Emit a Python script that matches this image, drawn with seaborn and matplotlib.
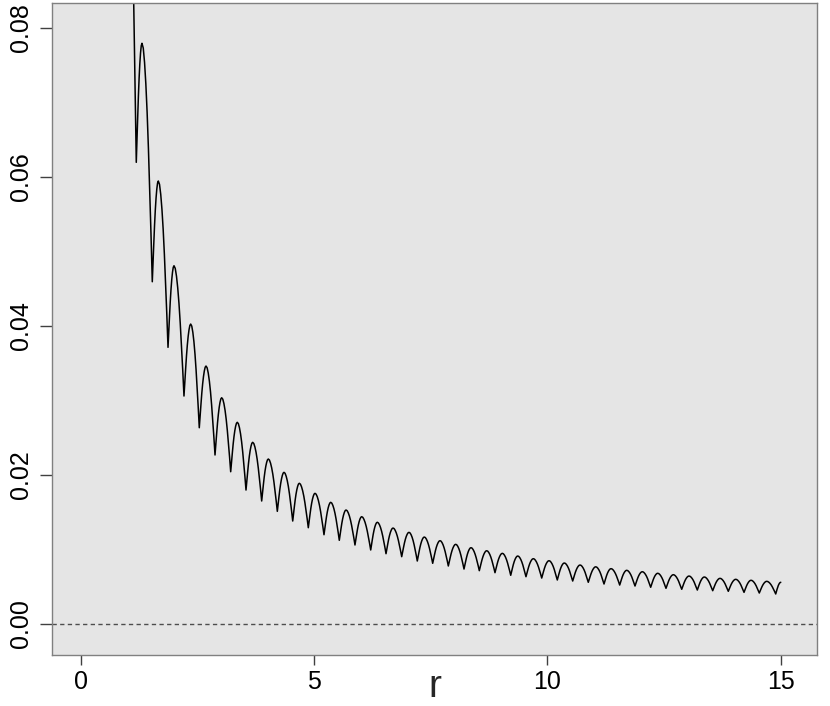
#importa os pacotes necessários
import pandas as pd
import matplotlib
matplotlib.use('Agg')
import matplotlib.pyplot as plt
import seaborn as sns

# Valores: vales (cúspides) e picos de cada arco
r_vale = [1.191, 1.534, 1.871, 2.213, 2.541, 2.878, 3.214, 3.542, 3.878, 4.213,
          4.543, 4.877, 5.213, 5.541, 5.877, 6.214, 6.542, 6.878, 7.212, 7.542,
          7.877, 8.213, 8.541, 8.877, 9.214, 9.541, 9.878, 10.212, 10.542, 10.876,
          11.213, 11.549, 11.877, 12.213, 12.541, 12.878, 13.212, 13.542, 13.876, 14.213,
          14.540, 14.892]
v_vale = [0.06196, 0.04592, 0.03711, 0.03057, 0.02631, 0.02265, 0.02040, 0.01794, 0.01647, 0.01508,
          0.01378, 0.01288, 0.01194, 0.01119, 0.01056, 0.00989, 0.00939, 0.00899, 0.00841, 0.00810,
          0.00774, 0.00733, 0.00711, 0.00684, 0.00649, 0.00630, 0.00612, 0.00586, 0.00572, 0.00555,
          0.00532, 0.00518, 0.00505, 0.00488, 0.00474, 0.00461, 0.00451, 0.00442, 0.00434, 0.00420,
          0.00411, 0.00398]
r_pico = [1.313, 1.663, 1.999, 2.357, 2.685, 3.021, 3.355, 3.685, 4.020, 4.356,
          4.684, 5.020, 5.357, 5.685, 6.021, 6.355, 6.692, 7.034, 7.362, 7.699,
          8.035, 8.363, 8.699, 9.034, 9.364, 9.698, 10.034, 10.362, 10.699, 11.035,
          11.363, 11.699, 12.033, 12.363, 12.698, 13.034, 13.362, 13.698, 14.035, 14.363,
          14.699]
v_pico = [0.07795, 0.05945, 0.04807, 0.04024, 0.03460, 0.03034, 0.02704, 0.02435, 0.02211, 0.02032,
          0.01885, 0.01750, 0.01629, 0.01526, 0.01436, 0.01361, 0.01284, 0.01226, 0.01163, 0.01114,
          0.01065, 0.01020, 0.00979, 0.00944, 0.00908, 0.00872, 0.00845, 0.00814, 0.00787, 0.00763,
          0.00738, 0.00716, 0.00697, 0.00676, 0.00657, 0.00639, 0.00626, 0.00608, 0.00595, 0.00582,
          0.00568]

# Trecho de entrada (vem de cima do gráfico) e ponto final em r = 15
r_entrada = [1.05, 1.136]
v_entrada = [0.117, 0.0834]
r_fim = 15.0
v_fim = 0.00555

# Formato de meio arco (fração da largura e da altura)
passo = [0.0, 0.125, 0.25, 0.375, 0.5, 0.625, 0.75, 0.875, 1.0]
perfil = [0.0, 0.20, 0.38, 0.56, 0.71, 0.83, 0.92, 0.98, 1.0]

# Monta a curva arco a arco
r_pts = r_entrada + [r_vale[0]]
v_pts = v_entrada + [v_vale[0]]
for k in range(len(r_pico)):
    for t, s in zip(passo[1:], perfil[1:]):                      # subida do vale até o pico
        r_pts.append(r_vale[k] + t*(r_pico[k]-r_vale[k]))
        v_pts.append(v_vale[k] + s*(v_pico[k]-v_vale[k]))
    for t, s in zip(passo[-2::-1], perfil[-2::-1]):              # descida do pico até o próximo vale
        r_pts.append(r_vale[k+1] + t*(r_pico[k]-r_vale[k+1]))
        v_pts.append(v_vale[k+1] + s*(v_pico[k]-v_vale[k+1]))
for t, s in zip(passo[1:], perfil[1:]):                          # última subida até r = 15
    r_pts.append(r_vale[-1] + t*(r_fim-r_vale[-1]))
    v_pts.append(v_vale[-1] + s*(v_fim-v_vale[-1]))

df = pd.DataFrame({'r': r_pts, 'valor': v_pts})

# Estilo parecido com o gráfico base do R com fundo cinza
sns.set_style('white', {'axes.facecolor': '#e5e5e5', 'axes.edgecolor': '#808080'})
plt.rcParams['font.family'] = ['Liberation Sans', 'DejaVu Sans']

fig = plt.figure(figsize=(8.3, 7.06), dpi=100)
ax = fig.add_axes([0.0623, 0.0722, 0.9224, 0.9231])

sns.lineplot(data=df, x='r', y='valor', sort=False, estimator=None, color='black', lw=1.1, ax=ax)
ax.axhline(0, color='#4d4d4d', lw=1.0, ls=(0, (3.1, 2.4)))

ax.set_xlim(-0.621, 15.783)
ax.set_ylim(-0.00422, 0.08332)
ax.set_xticks([0, 5, 10, 15])
ax.set_yticks([0.00, 0.02, 0.04, 0.06, 0.08])
ax.set_yticklabels(['0.00', '0.02', '0.04', '0.06', '0.08'])

for s in ax.spines.values():
    s.set_linewidth(1.0)
    s.set_color('#808080')

ax.tick_params(axis='x', bottom=True, direction='out', length=7.2, width=1.0, color='#404040',
               pad=3.5, labelsize=18, labelcolor='black')
ax.tick_params(axis='y', left=True, direction='out', length=8.4, width=1.0, color='#404040',
               pad=5, labelsize=18, labelcolor='black')
for lab in ax.get_yticklabels():
    lab.set_rotation(90)
    lab.set_va('center')

ax.set_ylabel('')
ax.set_xlabel('r', fontsize=28)
ax.xaxis.set_label_coords(0.5, -0.0644)
ax.xaxis.label.set_va('baseline')

plt.savefig('out.png', dpi=100)
